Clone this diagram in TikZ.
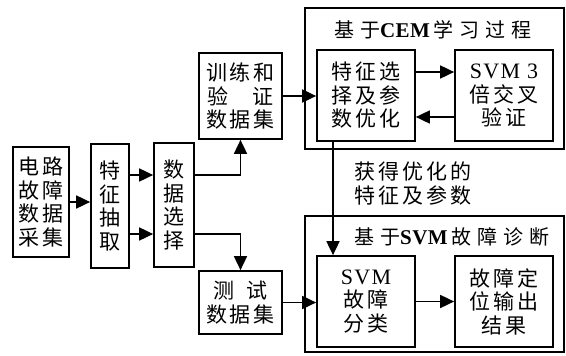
\documentclass[tikz,border=0pt]{standalone}
\usepackage{fontspec}
\setmainfont[LetterSpace=14]{Noto Sans CJK SC}
\newfontfamily\ttlfont[LetterSpace=30]{Noto Sans CJK SC}
\newfontfamily\tmfont[LetterSpace=6]{Liberation Serif}
\newfontfamily\tmbfont[LetterSpace=2]{Liberation Serif Bold}
\newcommand{\tm}[1]{{\tmfont\fontsize{22}{23.5}\selectfont #1}}
\newcommand{\tmb}[1]{{\tmbfont\fontsize{21}{23.5}\selectfont #1\hspace{4pt}}}
\usetikzlibrary{arrows.meta}
\tikzset{
  box/.style={draw, line width=1.7pt, inner sep=0pt, align=center, font=\fontsize{21}{23.5}\selectfont},
  outer/.style={draw, line width=2pt, inner sep=0pt},
  arr/.style={line width=1.7pt, -{Triangle[length=14pt,width=13pt]}},
  lbl/.style={inner sep=0pt, align=center, font=\fontsize{21}{23.5}\selectfont},
  ttl/.style={inner sep=0pt, font=\ttlfont\fontsize{20}{23.5}\selectfont}
}
\begin{document}
\begin{tikzpicture}[x=1pt,y=-1pt]
\useasboundingbox (0,0) rectangle (566,356);
\node[outer, minimum width=259pt, minimum height=141pt] (o1) at (434.5,78.5) {};
\node[outer, minimum width=259pt, minimum height=136pt] (o2) at (434.5,284) {};
\node[ttl] (t1) at (433,30) {基于\tmb{CEM}学习过程};
\node[ttl] (t2) at (452,237) {基于\tmb{SVM}故障诊断};
\node[box, minimum width=56pt, minimum height=110pt] (a) at (41,202) {电路\\故障\\数据\\采集};
\node[box, minimum width=38pt, minimum height=124pt] (b) at (110,206) {特\\征\\抽\\取};
\node[box, minimum width=40pt, minimum height=124pt] (c) at (174,205) {数\\据\\选\\择};
\node[box, minimum width=83pt, minimum height=86pt] (d) at (240.5,96) {训练和\\验\hspace{24pt}证\\数据集};
\node[box, minimum width=83pt, minimum height=63pt] (e) at (240.5,302.5) {测\hspace{12pt}试\\数据集};
\node[box, minimum width=98pt, minimum height=91pt] (f) at (366,95.5) {特征选\\择及参\\数优化};
\node[box, minimum width=98pt, minimum height=91pt] (g) at (504,95.5) {\tm{SVM 3}\\倍交叉\\验证};
\node[box, minimum width=98pt, minimum height=91pt] (h) at (366,301.5) {\tm{SVM}\\故障\\分类};
\node[box, minimum width=98pt, minimum height=91pt] (i) at (504,301.5) {故障定\\位输出\\结果};
\node[lbl] (l) at (413,183.5) {获得优化的\\特征及参数};
\coordinate (y1) at (0,175);
\coordinate (y2) at (0,234);
\coordinate (ya) at (0,72);
\coordinate (yb) at (0,117);
\coordinate (vx) at (333,0);
\draw[arr] (a.east) -- (a.east -| b.west);
\draw[arr] (b.east |- y1) -- (c.west |- y1);
\draw[arr] (b.east |- y2) -- (c.west |- y2);
\draw[arr] (c.east |- y1) -| (d.south);
\draw[arr] (c.east |- y2) -| (e.north);
\draw[arr] (d.east) -- (d.east -| f.west);
\draw[arr] (f.east |- ya) -- (g.west |- ya);
\draw[arr] (g.west |- yb) -- (f.east |- yb);
\draw[arr] (f.south -| vx) -- (h.north -| vx);
\draw[arr] (e.east) -- (e.east -| h.west);
\draw[arr] (h.east) -- (i.west);
\end{tikzpicture}
\end{document}
